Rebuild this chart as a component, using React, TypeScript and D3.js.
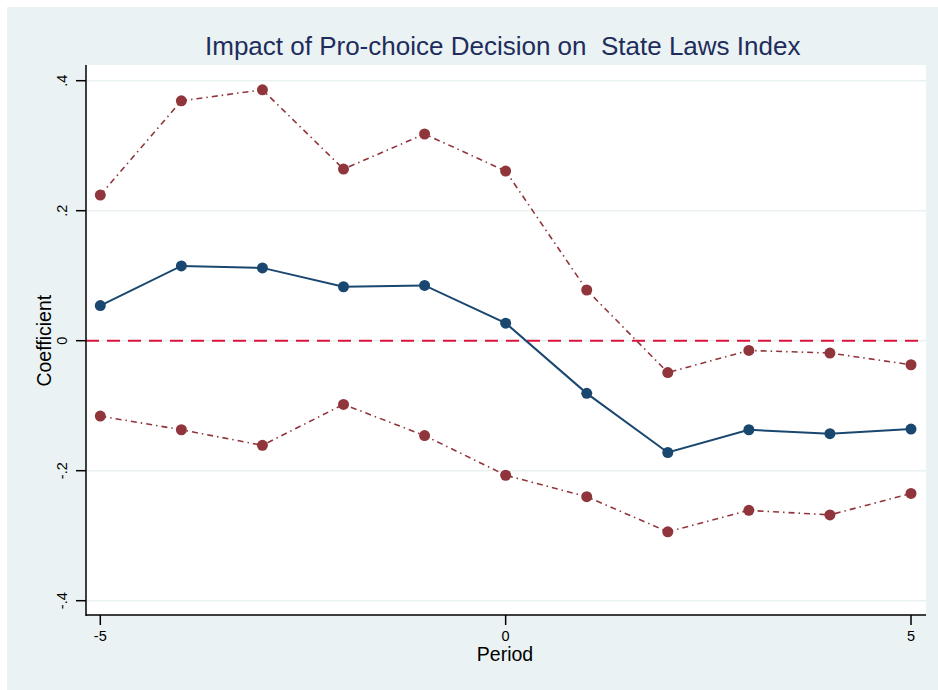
import { useMemo } from 'react';
import * as d3 from 'd3';

// event-study estimates
const periods = [-5, -4, -3, -2, -1, 0, 1, 2, 3, 4, 5];
const coef = [0.054, 0.115, 0.112, 0.083, 0.085, 0.027, -0.081, -0.172, -0.137, -0.143, -0.136];
const upperCI = [0.224, 0.369, 0.386, 0.264, 0.318, 0.261, 0.078, -0.049, -0.015, -0.019, -0.037];
const lowerCI = [-0.116, -0.137, -0.161, -0.098, -0.146, -0.207, -0.24, -0.294, -0.261, -0.268, -0.235];
const yTicks = [-0.4, -0.2, 0, 0.2, 0.4];
const xTicks = [-5, 0, 5];

const W = 938;
const H = 690;
const plot = { left: 86, right: 926, top: 65, bottom: 615 };

const BLUE = '#1a476f';
const MAROON = '#90353b';
const BG = '#eaf2f3';
const FONT = 'Arial, "Liberation Sans", sans-serif';

const fmt = (v: number) => (v === 0 ? '0' : String(v).replace('0.', '.'));

const App = () => {
  const x = d3.scaleLinear().domain([-5, 5]).range([100.3, 911]);
  const y = d3.scaleLinear().domain([-0.4, 0.4]).range([600.7, 80.7]);

  const lineGen = useMemo(
    () =>
      d3
        .line<[number, number]>()
        .x((d) => x(d[0]))
        .y((d) => y(d[1])),
    []
  );

  const series = [
    { vals: upperCI, color: MAROON, dash: '6 4 1.5 4' },
    { vals: lowerCI, color: MAROON, dash: '6 4 1.5 4' },
    { vals: coef, color: BLUE, dash: undefined },
  ];

  return (
    <svg
      width={W}
      height={H}
      style={{ position: 'absolute', left: 0, top: 0, background: '#fff' }}
    >
      <rect x={7} y={7} width={W - 7} height={H - 7} fill={BG} />
      <rect
        x={plot.left}
        y={plot.top}
        width={plot.right - plot.left}
        height={plot.bottom - plot.top}
        fill="#fff"
      />

      {/* gridlines */}
      {yTicks.map((t) => (
        <line
          key={'g' + t}
          x1={plot.left}
          x2={plot.right}
          y1={y(t)}
          y2={y(t)}
          stroke={BG}
          strokeWidth={1.5}
        />
      ))}

      {/* zero reference line */}
      <line
        x1={plot.left}
        x2={plot.right}
        y1={y(0)}
        y2={y(0)}
        stroke="#dc143c"
        strokeWidth={2}
        strokeDasharray="13 8"
      />

      {series.map((s, i) => {
        const pts = periods.map((p, j) => [p, s.vals[j]] as [number, number]);
        return (
          <g key={i}>
            <path
              d={lineGen(pts) ?? ''}
              fill="none"
              stroke={s.color}
              strokeWidth={s.dash ? 1.6 : 2}
              strokeDasharray={s.dash}
            />
            {pts.map((d, j) => (
              <circle key={j} cx={x(d[0])} cy={y(d[1])} r={5.5} fill={s.color} />
            ))}
          </g>
        );
      })}

      {/* axes */}
      <line x1={plot.left} x2={plot.left} y1={plot.top} y2={plot.bottom + 1} stroke="#000" strokeWidth={1.5} />
      <line x1={plot.left} x2={plot.right} y1={plot.bottom} y2={plot.bottom} stroke="#000" strokeWidth={1.5} />

      {yTicks.map((t) => (
        <g key={'y' + t}>
          <line x1={plot.left - 10} x2={plot.left} y1={y(t)} y2={y(t)} stroke="#000" strokeWidth={1.5} />
          <text
            transform={`translate(67,${y(t)}) rotate(-90)`}
            textAnchor="middle"
            fontFamily={FONT}
            fontSize={14.5}
            fill="#000"
          >
            {fmt(t)}
          </text>
        </g>
      ))}

      {xTicks.map((t) => (
        <g key={'x' + t}>
          <line x1={x(t)} x2={x(t)} y1={plot.bottom} y2={plot.bottom + 10} stroke="#000" strokeWidth={1.5} />
          <text x={x(t)} y={641} textAnchor="middle" fontFamily={FONT} fontSize={14.5} fill="#000">
            {fmt(t)}
          </text>
        </g>
      ))}

      <text x={505} y={661} textAnchor="middle" fontFamily={FONT} fontSize={19.5} fill="#000">
        Period
      </text>
      <text
        transform={`translate(51,${y(0)}) rotate(-90)`}
        textAnchor="middle"
        fontFamily={FONT}
        fontSize={19.5}
        fill="#000"
      >
        Coefficient
      </text>

      <text
        x={205}
        y={55}
        fontFamily={FONT}
        fontSize={26}
        fill="#1e2d5c"
        style={{ whiteSpace: 'pre' }}
      >
        {'Impact of Pro-choice Decision on  State Laws Index'}
      </text>
    </svg>
  );
};

export default App;
